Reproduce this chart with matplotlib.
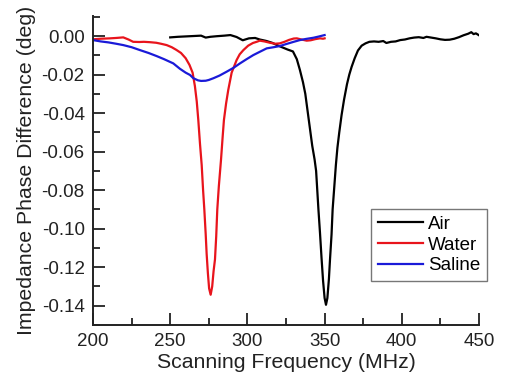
import matplotlib
matplotlib.use('Agg')
import matplotlib.pyplot as plt
from matplotlib.ticker import MultipleLocator

# values (MHz, deg)
air_freq = [250, 255, 260, 265, 270, 273, 276, 280, 285, 289, 293, 297, 301,
            305, 308, 312, 316, 320, 323, 326, 329.5, 332, 334, 336, 337.5,
            339, 340.5, 342, 343.5, 344.5, 346, 347, 348, 349, 350, 350.9,
            351.8, 352.8, 353.5, 354.5, 355.2, 356.3, 357.3, 358.3, 359.5,
            361, 362.6, 364.5, 366, 367.5, 369.5, 371.6, 374, 376.5, 379,
            382, 385, 388, 390, 393, 396, 399, 402, 405, 408, 411, 414, 416,
            419, 422, 425, 428, 431, 434, 437, 440, 443, 445, 446.5, 448, 450]
air_phase = [-0.0007, -0.0004, -0.0002, 0.0000, 0.0002, -0.0008, -0.0004,
             -0.0001, 0.0002, 0.0005, -0.0005, -0.0022, -0.0012, -0.0010,
             -0.0018, -0.0025, -0.0035, -0.0050, -0.0060, -0.0070, -0.0080,
             -0.0120, -0.0176, -0.0240, -0.0300, -0.0390, -0.0480, -0.0570,
             -0.0640, -0.0700, -0.0900, -0.1020, -0.1150, -0.1270, -0.1360,
             -0.1395, -0.1360, -0.1260, -0.1160, -0.1030, -0.0900, -0.0780,
             -0.0670, -0.0580, -0.0500, -0.0410, -0.0330, -0.0250, -0.0200,
             -0.0160, -0.0115, -0.0075, -0.0050, -0.0038, -0.0030, -0.0028,
             -0.0030, -0.0026, -0.0036, -0.0030, -0.0028, -0.0021, -0.0018,
             -0.0012, -0.0008, -0.0006, -0.0010, -0.0004, -0.0008, -0.0012,
             -0.0017, -0.0020, -0.0019, -0.0014, -0.0006, 0.0004, 0.0012,
             0.0020, 0.0010, 0.0014, 0.0004]

water_freq = [200, 205, 211, 215, 219.6, 223, 226, 230, 233, 237, 241, 244,
              247.7, 251, 254, 257, 260, 262.5, 264.5, 266, 267.2, 268.2,
              269.3, 270.4, 271.3, 272.1, 273, 273.6, 274.4, 275.2, 276.2,
              277.2, 278.1, 279, 279.8, 280.5, 281.5, 282.9, 284, 284.8,
              286.2, 287.6, 289.8, 293, 295, 297.4, 300.5, 303.6, 306, 308,
              311, 314.6, 318, 321, 324, 327, 330, 332, 335, 338.4, 341, 344,
              347, 349, 350]
water_phase = [-0.0017, -0.0014, -0.0012, -0.0010, -0.0007, -0.0018, -0.0030,
               -0.0031, -0.0030, -0.0032, -0.0035, -0.0040, -0.0047, -0.0058,
               -0.0072, -0.0088, -0.0115, -0.0150, -0.0190, -0.0260, -0.0340,
               -0.0436, -0.0560, -0.0670, -0.0800, -0.0900, -0.1030, -0.1130,
               -0.1230, -0.1310, -0.1343, -0.1300, -0.1220, -0.1160, -0.1040,
               -0.0900, -0.0780, -0.0643, -0.0520, -0.0436, -0.0350, -0.0280,
               -0.0190, -0.0125, -0.0095, -0.0073, -0.0050, -0.0036, -0.0030,
               -0.0024, -0.0028, -0.0035, -0.0040, -0.0038, -0.0030, -0.0020,
               -0.0013, -0.0012, -0.0018, -0.0024, -0.0022, -0.0016, -0.0012,
               -0.0014, -0.0012]

saline_freq = [200, 205, 210, 215, 219.6, 225, 230.4, 236, 241.2, 246, 252,
               256.3, 260, 262.8, 265, 268, 270, 273, 275, 278, 282, 286.6,
               291, 295.2, 299.5, 303.8, 308, 312.5, 317, 321, 325, 330, 334,
               338, 342.7, 346, 350]
saline_phase = [-0.0021, -0.0028, -0.0033, -0.0040, -0.0047, -0.0058, -0.0073,
                -0.0088, -0.0104, -0.0120, -0.0142, -0.0170, -0.0190, -0.0202,
                -0.0219, -0.0230, -0.0233, -0.0232, -0.0228, -0.0219, -0.0205,
                -0.0185, -0.0165, -0.0142, -0.0120, -0.0099, -0.0082, -0.0064,
                -0.0058, -0.0052, -0.0042, -0.0030, -0.0021, -0.0015, -0.0009,
                -0.0003, 0.0005]


plt.rcParams['font.family'] = ['Liberation Sans', 'DejaVu Sans']

fig = plt.figure(figsize=(5.05, 3.79), dpi=100)
ax = fig.add_axes([93 / 505, 1 - 325 / 379, 386 / 505, 309 / 379])

ax.plot(air_freq, air_phase, color='black', lw=1.6, label='Air')
ax.plot(water_freq, water_phase, color='#e8141c', lw=1.6, label='Water')
ax.plot(saline_freq, saline_phase, color='#1a1ad8', lw=1.6, label='Saline')

ax.set_xlim(200, 450)
ax.set_ylim(-0.15, 0.0104)
ax.xaxis.set_major_locator(MultipleLocator(50))
ax.xaxis.set_minor_locator(MultipleLocator(25))
ax.yaxis.set_major_locator(MultipleLocator(0.02))
ax.yaxis.set_minor_locator(MultipleLocator(0.01))
ax.yaxis.set_major_formatter(plt.FuncFormatter(
    lambda v, p: '{:.2f}'.format(v).replace('-0.00', '0.00')))

for side in ['top', 'right']:
    ax.spines[side].set_visible(False)
for side in ['left', 'bottom']:
    ax.spines[side].set_linewidth(1.4)
    ax.spines[side].set_color('#222222')

ax.tick_params(which='major', direction='in', length=8.5, width=1.3,
               labelsize=13.5, colors='#222222', pad=6)
ax.tick_params(which='minor', direction='in', length=5, width=1.3,
               colors='#222222')

ax.set_xlabel('Scanning Frequency (MHz)', fontsize=15.3, color='#222222',
              labelpad=2)
ax.set_ylabel('Impedance Phase Difference (deg)', fontsize=15.3,
              color='#222222', labelpad=4)

leg = ax.legend(loc='upper left', bbox_to_anchor=(371 / 505, 1 - 209 / 379),
                bbox_transform=fig.transFigure, fontsize=13.5, fancybox=False,
                handlelength=2.4, handletextpad=0.3, borderpad=0.35,
                labelspacing=0.2, borderaxespad=0)
leg.get_frame().set_edgecolor('#555555')
leg.get_frame().set_linewidth(1.0)

plt.savefig('out.png', dpi=100)
plt.close()
